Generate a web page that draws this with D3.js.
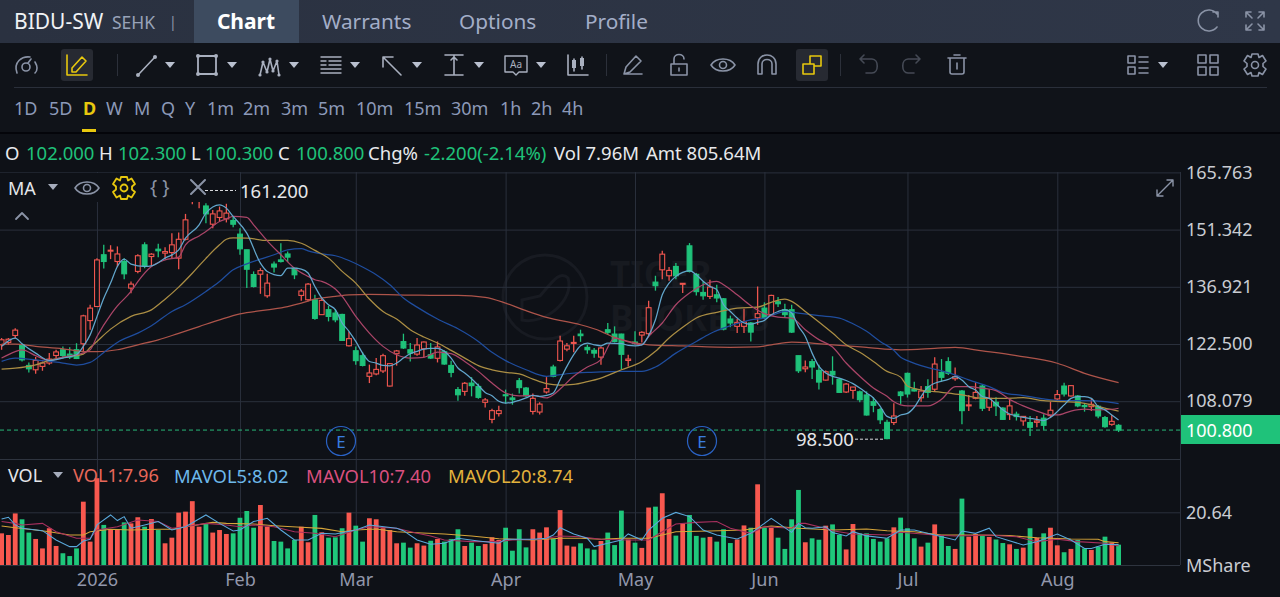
<!DOCTYPE html>
<html><head><meta charset="utf-8">
<style>html,body{margin:0;padding:0;background:#0e1117;overflow:hidden}svg{display:block}text{font-family:"Noto Sans",sans-serif}</style>
<script src="https://cdn.jsdelivr.net/npm/d3@7/dist/d3.min.js"></script>
</head><body><svg id="c" width="1280" height="597"></svg>
<script>
const opens=[122.3,122.9,124.65,122.3,117.1,116.0,116.85,117.7,119.6,121.05,
119.95,121.05,122.55,128.4,131.95,145.0,145.9,143.3,143.3,136.6,
140.8,147.5,144.55,146.4,145.4,145.55,144.15,148.9,158.6,158.8,
157.3,152.7,154.4,154.05,153.65,150.2,146.25,140.0,140.1,134.65,
142.65,143.7,145.2,141.6,134.75,133.65,133.65,129.9,131.15,130.3,
129.95,122.05,120.8,119.55,114.35,114.95,115.7,111.9,120.05,123.1,
121.05,119.95,121.3,119.8,118.9,120.55,117.1,111.0,110.55,112.65,
111.8,107.8,103.5,104.95,109.7,108.9,113.25,111.4,105.5,105.35,
110.4,116.7,118.35,121.2,122.75,125.0,121.65,120.9,119.2,126.1,
125.0,125.0,118.35,123.0,124.75,125.1,138.1,141.2,139.7,142.05,
137.6,147.25,140.05,135.5,134.5,134.9,133.9,128.8,126.95,126.95,
127.8,129.1,131.55,129.9,133.15,131.15,131.15,119.55,116.25,118.05,
115.85,113.4,115.6,113.6,110.4,110.8,110.45,109.65,107.95,105.95,
102.75,102.7,110.4,115.1,111.1,108.95,111.75,111.1,115.35,118.05,
113.75,110.65,106.9,108.8,111.9,106.55,107.8,106.35,104.7,104.8,
103.1,102.7,102.75,103.8,104.45,108.65,111.9,109.4,109.4,107.0,
106.7,106.8,103.95,102.25,102.0];
const closes=[123.56,123.7,126.0,118.5,116.25,118.35,117.7,118.7,120.5,119.6,
119.2,118.85,129.6,131.55,143.7,143.3,146.15,145.2,140.2,137.6,
144.75,142.05,145.15,146.0,145.8,147.5,148.9,153.8,160.0,159.5,
155.3,155.3,156.05,155.5,152.7,146.5,141.35,137.0,141.0,137.85,
141.9,143.3,144.4,139.95,135.85,137.6,128.95,133.5,129.45,128.6,
123.4,123.85,118.3,117.1,115.2,116.1,119.55,117.55,120.75,121.5,
120.2,122.25,123.0,118.95,121.75,117.45,115.35,109.7,112.6,112.0,
109.05,108.4,105.7,105.7,109.55,108.45,111.5,109.45,108.8,107.35,
111.25,114.35,123.25,122.05,122.9,124.6,121.05,120.2,121.5,125.45,
123.15,119.9,118.7,122.6,125.45,131.65,137.2,145.15,141.05,139.7,
137.8,140.8,135.7,134.65,136.85,134.1,126.25,127.8,127.95,128.05,
125.5,130.15,129.05,134.75,132.65,129.9,125.5,115.75,116.7,116.7,
112.9,115.5,114.7,110.3,112.4,111.65,108.45,104.6,107.05,103.4,
98.65,104.35,109.5,109.9,110.65,110.65,110.3,117.45,114.1,115.1,
114.25,105.7,107.15,110.3,106.3,108.8,106.9,103.5,106.9,104.2,
104.25,101.5,103.1,102.0,105.8,109.75,109.9,112.0,106.9,106.7,
107.3,104.35,101.65,103.0,100.8];
const highs=[124.0,124.0,126.5,122.55,117.85,119.2,118.1,120.2,121.05,121.9,
121.7,122.7,129.9,132.4,144.1,147.5,147.4,147.1,144.1,138.25,
145.15,148.15,145.4,147.75,146.9,150.45,150.6,155.3,161.2,160.0,
158.0,156.3,157.15,157.85,154.65,151.7,146.25,140.8,141.6,140.2,
143.3,147.9,145.8,141.6,136.35,137.85,134.9,134.1,132.15,131.3,
130.15,125.6,121.9,120.45,117.3,118.95,120.05,117.7,121.0,125.1,
122.75,124.0,123.15,122.75,123.15,120.9,118.3,111.65,112.9,114.15,
112.5,108.9,106.2,106.95,111.0,110.0,113.9,111.65,110.0,107.8,
114.15,117.3,124.6,122.75,124.6,126.1,122.3,121.5,121.9,127.8,
126.95,125.1,119.8,125.7,125.7,133.4,139.7,146.0,141.9,142.9,
137.85,147.95,140.4,138.3,138.7,137.45,134.1,129.65,128.8,131.4,
128.05,137.0,133.0,134.9,134.35,132.65,132.4,119.55,118.35,118.7,
117.3,115.85,119.4,113.9,112.65,111.65,110.8,110.55,109.05,106.35,
103.4,107.55,110.65,115.3,113.0,111.9,113.6,119.15,118.7,119.15,
116.55,110.9,109.65,112.85,112.35,111.1,109.05,106.55,108.4,105.45,
104.35,104.35,104.35,104.8,107.95,110.9,112.75,112.15,109.65,107.4,
108.65,107.15,104.35,104.6,102.3];
const lows=[121.04,122.3,124.0,118.1,115.3,115.0,115.75,117.25,118.95,119.2,
118.7,118.7,120.6,126.1,131.95,141.55,143.9,141.9,138.85,135.3,
140.35,141.6,142.05,144.4,143.9,144.15,141.35,148.6,157.75,156.75,
152.95,151.7,153.4,153.15,151.95,145.0,136.6,136.75,135.15,134.15,
140.55,143.05,143.2,138.85,133.4,133.25,128.6,129.9,128.2,128.0,
123.25,121.9,117.3,116.85,112.65,114.6,115.2,111.8,117.05,121.25,
118.1,119.55,119.15,118.7,117.85,117.3,114.1,108.2,109.45,109.3,
108.7,106.5,102.5,104.25,107.45,107.2,110.0,109.15,104.75,104.75,
110.0,114.1,118.1,120.65,120.45,123.05,120.05,119.05,117.3,124.85,
122.9,116.2,116.85,122.3,122.9,124.6,135.95,138.85,138.45,138.85,
135.35,140.55,134.75,133.65,133.85,133.0,125.95,126.75,125.25,125.25,
123.15,127.35,128.8,129.65,131.8,129.3,125.25,115.2,115.35,113.65,
111.0,113.3,112.25,110.15,110.15,108.7,107.8,104.45,105.3,102.35,
98.5,102.1,107.4,109.0,110.5,107.95,108.95,110.5,113.0,114.7,
113.25,102.25,105.6,108.55,105.6,105.6,104.35,103.35,103.35,103.2,
101.9,99.3,101.5,100.85,104.0,108.2,109.25,109.25,106.55,105.45,
105.6,103.75,101.4,101.9,100.3];
const volumes=[12.4,11.75,20.2,17.9,12.7,10.2,6.5,14.4,7.45,4.6,
3.5,6.5,24.8,9.15,34,15.7,14,14,16.7,16.3,
18.7,15,18,13.7,8.5,10.7,20.5,20.9,25,15,
16.3,12.7,13.7,12.15,12.4,18.5,21.15,14.6,23.5,15,
9.4,9.15,6.5,9.8,15,8.9,19.6,12.8,10.7,10.85,
14.4,20.5,15.4,9.15,18.3,17.9,14.4,13.7,8.5,8.75,
6.8,8.5,7.6,9.5,10.2,9.15,10.2,14,7.45,8.75,
7.45,8.2,10.85,9.8,14.6,5.6,14,6.9,14,12.7,
14.75,10.2,21.5,7.6,7.2,8.5,6.5,6,9.4,12.7,
7.8,21.3,10,8.75,6.7,22.5,22.85,28.1,18,11.5,
16.3,19.6,11.4,10.7,11,9.15,14,8.6,10,15.5,
14.6,31.6,14.6,14.6,10.7,6.3,17.9,29.4,8.9,10.45,
9.9,15.4,15.9,11.75,6.1,16.05,12.4,12.4,10.2,9.15,
10.45,14.75,18.55,14.4,10.45,7.2,8.75,15.9,11.4,7.45,
6.3,26,11.1,12.15,11.4,11,10,8.6,8.1,6.3,
6.8,14.4,10.7,12.4,14.6,7.7,5,6.3,9.8,6.5,
5.9,7.2,11.1,8.75,7.96];
const ma5=[[0,121.9],[2,124],[3,122.55],[5,120.2],[7,118.35],[9,118.95],[11,119.8],[12,121.9],[13,124.8],[14,129.4],[15,134.05],[16,137.85],[17,142.05],[18,143.9],[19,142.65],[21,142.05],[22,142.2],[24,144.15],[26,146.25],[27,149.2],[29,152.55],[30,155.5],[32,157.6],[33,156.75],[34,154.65],[36,150.45],[38,142.9],[39,140.8],[41,139.75],[42,141.6],[43,141.6],[44,141.4],
[45,140.4],[46,137],[47,134.1],[48,132.4],[49,131.15],[50,127.8],[51,125.7],[52,123.15],[53,120.2],[54,118.1],[55,117.7],[56,117.1],[57,117],[58,117.7],[59,118.95],[60,120.05],[61,120.65],[62,121.2],[63,121.4],[64,121.4],[65,120.65],[66,118.95],[67,116.45],[68,115.2],[69,113.75],[70,112.05],[71,110.3],[72,109.45],[73,108.05],[74,107.6],[75,107.8],[76,108.3],[77,108.9],[78,109.55],[79,109.3],[80,109.55],[81,110.15],[82,113.5],[83,116.85],[84,119.8],[85,122.05],[86,122.75],[87,122.3],[88,122.05],
[89,122.75],[91,122.6],[92,122.15],[93,122.05],[94,122.3],[95,124.6],[96,128.6],[97,134.9],[98,137.85],[99,139.55],[100,140.55],[101,141],[102,139.95],[103,138.3],[104,137],[105,136.2],[106,132.4],[107,130.7],[108,129.05],[109,127.8],[110,127.5],[111,127.95],[112,128.45],[113,129.9],[114,130.7],[115,131.15],[116,130.3],[117,126.95],[118,124.4],[119,120.2],[120,116.85],[121,115.2],[122,114.35],[123,113.9],[124,113.3],[125,112.5],[126,111.4],[127,110.15],[128,108.9],[129,106.8],[130,104.25],
[131,103.75],[132,104.6],[133,105],[134,106.55],[135,109.25],[136,111.6],[137,112.6],[139,113.6],[140,114.25],[141,113.4],[142,111.75],[143,110.9],[144,109.25],[145,108.8],[146,107.4],[147,105.9],[148,104.85],[149,104.35],[150,104],[151,103.75],[152,103.5],[153,103.2],[154,104],[155,105.45],[156,107.15],[157,108.8],[158,109.25],[159,109.25],[160,108.8],[161,106.7],[162,105.9],[163,104.6],[164,103.35]];
const ma10=[[0,118.95],[2,120.6],[3,121.05],[5,119.55],[7,118.35],[9,119.2],[11,119.8],[13,121.05],[14,124.4],[16,129.85],[17,132.1],[19,135.75],[20,138.25],[22,142.05],[24,143.7],[26,144.4],[27,147.5],[29,149.75],[30,150.85],[32,153.4],[33,154.05],[34,154.65],[36,154.45],[37,152.55],[39,148.5],[41,145],[43,141.6],
[45,139.55],[46,138.7],[47,138.3],[49,136.35],[50,134.5],[52,129.45],[54,125.25],[56,121.9],[58,119.8],[60,118.95],[62,119.15],[64,120.45],[66,120.05],[68,118.1],[70,115.6],[72,112.65],[74,110.15],[76,109.45],[78,109.55],[80,108.9],[81,109.7],[82,111.15],[84,114.35],[86,116.7],[88,118.55],
[90,124],[92,123],[94,122.3],[95,124.4],[97,127.8],[99,132.4],[101,135.35],[103,137.45],[105,138.3],[106,137.45],[108,134.9],[110,132.15],[112,130.15],[114,129.3],[116,129.05],[118,126.1],[120,123.6],[122,121.75],[124,117.7],[126,114.35],[128,111.4],[130,109.3],
[131,107.95],[133,106.9],[136,106.9],[138,108.55],[140,111.75],[142,111.75],[144,111.35],[146,110.75],[148,108.55],[150,106.9],[152,105.6],[154,104.6],[155,104.6],[157,105.6],[159,106.05],[161,105.9],[163,106.05],[164,106.3]];
const ma20=[[0,116.15],[2,116.4],[5,117.25],[7,118.35],[10,119.35],[12,119.95],[13,121.6],[14,123.15],[16,126.25],[19,129.45],[22,131.1],[24,133.8],[26,136.85],[28,140.35],[30,144.1],[32,147.5],[33,148.9],[34,149.25],[36,149.2],[39,148.6],[42,148.6],[44,147.9],
[46,146.1],[48,144.15],[50,140.8],[52,137.85],[54,133.85],[56,130.7],[58,128.8],[60,126.1],[62,124.25],[64,122.75],[66,120.9],[68,118.95],[70,117.05],[72,116],[74,115.35],[76,114.95],[78,113.65],[80,112.5],[82,112.15],[84,112.3],[86,113],[88,113.9],
[91,116],[94,118.1],[96,120.65],[98,124],[100,126.7],[102,129.05],[105,130.5],[108,131.55],[111,131.8],[113,133],[115,133.8],[116,133.25],[118,130.7],[120,128.05],[122,125.25],[124,122.3],[126,120.4],[128,118.1],[130,115.6],[132,114.15],
[133,111.9],[135,110.9],[138,110.3],[141,109.65],[144,108.8],[147,108.8],[150,108.95],[153,108.2],[156,107.95],[159,107.55],[161,106.7],[164,105.6]];
const ma30=[[0,118.1],[2,118.95],[5,118.5],[7,118.1],[9,117.7],[11,117.2],[13,117.85],[15,120.35],[17,122.9],[20,125.25],[22,127.1],[25,130.7],[27,132.4],[30,135.75],[32,138.25],[34,141.2],[36,142.7],[38,143.9],[40,145],[42,146.25],[44,146.55],
[45,146],[47,145.25],[49,144.75],[51,143.55],[53,141.9],[55,139.95],[57,137.45],[59,134.1],[61,131.8],[64,128.8],[67,126.35],[70,123.15],[72,120.4],[74,118.3],[77,116],[80,114.35],[83,115],[86,115.35],[88,115.45],
[91,115.6],[94,115.6],[96,116.7],[99,120.2],[102,123.15],[104,125.1],[107,127.1],[110,128.6],[112,129.05],[114,130.3],[115,130.7],[117,130.3],[120,129.65],[123,129.05],[125,127.6],[127,125.7],[129,123.15],[131,120.9],
[132,119.15],[133,118.3],[136,116.55],[138,115.7],[140,114.7],[142,113.45],[145,111.75],[147,110.25],[150,109.5],[153,108.65],[156,108.2],[159,108.2],[162,107.95],[164,107.45]];
const ma60=[[0,122.45],[2,122.45],[5,121.9],[9,121.3],[12,120.6],[14,120.55],[17,121.05],[20,122.3],[23,123.55],[26,125.2],[29,126.9],[32,128.6],[35,130.1],[39,131.1],[42,131.95],[44,132.8],
[46,133.85],[49,134.5],[51,134.9],[54,135],[60,134.85],[64,134.75],[67,134.75],[71,134.25],[74,132.8],[77,130.9],[80,129.2],[85,127.35],[88,125.7],
[90,124.15],[92,123.15],[95,122.3],[100,122],[107,121.65],[111,121.75],[113,122.3],[116,123],[119,122.75],[122,122.3],[127,121.65],[132,121.05],
[137,121.4],[140,121.65],[144,120.75],[149,119.55],[155,117.65],[159,115.1],[164,112.75]];
const mavol5=[[0,18],[1,18.7],[2,15.7],[3,14.4],[6,13.45],[8,9.8],[10,7.2],[11,7.2],[12,9.4],[13,10.05],[14,15.7],[16,19.6],[17,17.4],[18,18.95],[19,14.4],[21,15.7],[23,17],[25,13.7],[27,15],[30,19.6],[32,16.3],[34,13.3],[35,13.7],[37,17],[39,18.3],[41,13.7],[43,9.8],[45,9.8],[47,12.4],[49,12.15],[52,13.7],[54,15.7],[58,14.4],
[59,13.45],[61,9.8],[63,8.1],[65,8.5],[67,10.45],[70,9.4],[73,8.5],[74,10.05],[78,10.05],[80,10.45],[81,11.75],[82,14.6],[84,12.15],[86,10.45],[87,7.2],[89,8.5],[91,9.8],[92,12.15],[94,9.8],[95,13.7],[97,18.3],[99,20.6],[101,18.95],[103,13.7],[105,11.75],[108,10.2],[110,12.4],[112,16.3],[113,18.3],[116,12.8],[117,16.3],
[118,14.6],[119,14.4],[121,15],[122,12.7],[124,11.4],[125,13.05],[127,11.4],[130,10.45],[132,13.7],[134,13.7],[137,11.75],[140,9.8],[141,13.3],[143,12.4],[145,14.4],[146,11.1],[150,7.85],[152,9.15],[155,12.15],[157,9.8],[159,6.5],[160,6.5],[162,8.1],[164,8.02]];
const mavol10=[[0,17],[2,16.3],[3,15.7],[6,16.3],[8,13.05],[11,10.45],[13,10.45],[14,13.7],[17,15],[20,17.6],[23,17],[25,14.4],[27,15],[30,16.3],[33,15.7],[35,15],[37,15.7],[40,15],[43,13.05],[46,12.4],[49,11.1],[52,13.7],[54,15],[58,14.4],
[61,12.4],[63,11.35],[65,9.8],[69,9.15],[73,9.15],[75,9.8],[79,10.05],[82,11.35],[85,11.1],[88,10.05],[92,9.8],[95,9.8],[97,13.05],[99,16.05],[102,16.7],[105,17],[107,14.4],[110,12.4],[112,15],[116,14.4],[117,16.3],
[118,16.3],[120,15],[122,13.45],[125,12.15],[130,11.75],[132,12.8],[137,11.75],[140,11.35],[145,11.75],[149,11.1],[152,9.15],[155,10.05],[158,9.15],[162,8.5],[164,7.4]];
const mavol20=[[0,15.3],[2,14.6],[5,13.7],[7,13.05],[10,11.75],[12,11.75],[13,13.05],[16,14],[19,13.7],[23,14],[25,14],[28,15.4],[31,16.7],[33,16.3],[37,16.05],[40,15.4],[44,14.75],[47,14.35],[50,13.05],[52,13.7],[55,14.1],[58,13.05],
[61,12.65],[65,12.15],[69,11.35],[73,10.3],[78,9.8],[82,10.45],[85,10.45],[88,10.05],[91,10.45],[95,10.45],[97,11.75],[99,13.05],[104,13.3],[109,13.7],[113,15.3],[117,14.4],
[122,13.7],[127,14.1],[130,13.45],[134,13.05],[138,11.75],[143,11.75],[148,11.5],[152,10.7],[157,10.2],[161,10.05],[162,9.15],[164,8.74]];
const monthIdx=[14,35,52,74,93,112,133,155];
const monthLabels=["2026","Feb","Mar","Apr","May","Jun","Jul","Aug"];
const priceTicks=[165.763,151.342,136.921,122.5,108.079];
const volTicks=[20.64];
const intervals=["1D","5D","D","W","M","Q","Y","1m","2m","3m","5m","10m","15m","30m","1h","2h","4h"];
const intervalX=[14,49,83,106,134,161,185,207,243,281,318,356,404,451,500,531,562];
const tabs=["Warrants","Options","Profile"];
const tabX=[322,459,585];
const quote=[["O",5,"w"],["102.000",26,"g"],["H",99,"w"],["102.300",118,"g"],["L",191,"w"],["100.300",205,"g"],["C",278,"w"],["100.800",296,"g"],["Chg%",368,"w"],["-2.200(-2.14%)",424,"g"],["Vol 7.96M",554,"w"],["Amt 805.64M",646,"w"]];

const svg=d3.select("#c");
const UP="#f0564f",DOWN="#1fc27a",BG="#0e1117",GRID="#2a303c",AXT="#c9ccd2",MUT="#8c99b8",ICON="#8a93a6",YEL="#e8c80e";
const n=opens.length;
const x=d3.scaleLinear().domain([0,n-1]).range([1.6,1118.6]);
const y=d3.scaleLinear().domain([122.5,108.079]).range([344,401.2]);
const yv=d3.scaleLinear().domain([0,20.64]).range([565,512.3]);
const plotR=1180;

// panels
svg.append("rect").attr("width",1280).attr("height",597).attr("fill",BG);
const hdr=svg.append("linearGradient").attr("id","hg").attr("x1",0).attr("x2",1).attr("y1",0).attr("y2",0);
hdr.append("stop").attr("offset",0).attr("stop-color","#2a3140");hdr.append("stop").attr("offset",1).attr("stop-color","#2f3748");
svg.append("rect").attr("width",1280).attr("height",43).attr("fill","url(#hg)");
svg.append("rect").attr("y",43).attr("width",1280).attr("height",89).attr("fill","#101319");
svg.append("rect").attr("x",194).attr("width",105).attr("height",43).attr("fill","#3d4b5f");
svg.append("rect").attr("y",132).attr("width",1280).attr("height",2).attr("fill","#04050a");
svg.append("line").attr("x1",14).attr("x2",1267).attr("y1",87.5).attr("y2",87.5).attr("stroke","#2a2f3a");
const T=(s,px,py,size,fill,opt={})=>svg.append("text").attr("x",px).attr("y",py).attr("font-size",size).attr("fill",fill).attr("dominant-baseline","central").attr("font-weight",opt.w||400).attr("text-anchor",opt.a||"start").text(s);
T("BIDU-SW",14,21,21,"#f0f2f5");
T("SEHK",112,22,17.5,"#98a2b8");
T("|",169,21,14,"#8f98aa");
T("Chart",246,21,21,"#ffffff",{w:700,a:"middle"});
tabs.forEach((s,i)=>T(s,tabX[i],21,20.8,"#a3aec8"));
intervals.forEach((s,i)=>T(s,intervalX[i],108,18,s==="D"?YEL:MUT,{w:s==="D"?700:400}));
svg.append("rect").attr("x",82).attr("y",129).attr("width",14).attr("height",3).attr("fill",YEL);
quote.forEach(q=>T(q[0],q[1],152,18.5,q[2]==="g"?"#1fc27a":"#e8e9ec"));

// icons
function ic(cx,cy,d,col,sw){svg.append("path").attr("transform",`translate(${cx},${cy})`).attr("d",d).attr("fill","none").attr("stroke",col||ICON).attr("stroke-width",sw||1.6).attr("stroke-linecap","round").attr("stroke-linejoin","round");}
function tri(cx,cy,col){svg.append("path").attr("transform",`translate(${cx},${cy})`).attr("d","M-5,-3H5L0,3Z").attr("fill",col||"#b9c0cf");}
function dots(cx,cy,pts,r){pts.forEach(p=>svg.append("circle").attr("cx",cx+p[0]).attr("cy",cy+p[1]).attr("r",r||2).attr("fill","#a9b0bf"));}
const eye="M-12,0C-7,-8 7,-8 12,0C7,8 -7,8 -12,0Z M-3.5,0a3.5,3.5 0 1,0 7,0a3.5,3.5 0 1,0 -7,0";
const gear="M-3,-11H3L4,-7.5L7.5,-9.5L11,-4L8,-1.5V1.5L11,4L7.5,9.5L4,7.5L3,11H-3L-4,7.5L-7.5,9.5L-11,4L-8,1.5V-1.5L-11,-4L-7.5,-9.5L-4,-7.5Z M-3.5,0a3.5,3.5 0 1,0 7,0a3.5,3.5 0 1,0 -7,0";
ic(26,66,"M-9,7C-13,-4 -4,-10 4,-9 M9,-4C12,1 11,5 9,7 M-4,1a4,4 0 1,0 8,0a4,4 0 1,0 -8,0 M2,-3L5,-7");
svg.append("rect").attr("x",61).attr("y",49).attr("width",32).attr("height",32).attr("rx",3).attr("fill","#272a32");
ic(77,65,"M-10,-10V10H10 M-5,3L5,-8L9,-4L-1,7H-5Z",YEL);
svg.append("line").attr("x1",117.5).attr("x2",117.5).attr("y1",54).attr("y2",76).attr("stroke","#2c303a");
ic(146,66,"M-8,9L9,-9","#a9b0bf");dots(146,66,[[-8,9],[9,-9]]);
tri(170,65);
ic(207,65,"M-9,-9H9V9H-9Z","#a9b0bf",1.8);dots(207,65,[[-9,-9],[9,-9],[-9,9],[9,9]]);tri(232,65);
ic(269,66,"M-9,9L-6,-4L-2,6L1,-7L4,5L8,-5L10,9","#a9b0bf");dots(269,66,[[-9,9],[-6,-4],[-2,6],[1,-7],[4,5],[8,-5],[10,9]],1.6);tri(294,65);
ic(331,65,"M-10,-8H10 M-10,8H10 M-10,4H10 M-2,-4H10 M-2,0H10 M-10,-4H-5 M-10,0H-5","#a9b0bf",1.4);tri(355,65);
ic(392,66,"M-9,-9L9,9 M-9,-9V1 M-9,-9H1","#a9b0bf");tri(417,65);
ic(454,65,"M-9,-10H9 M-9,10H9 M0,-10V10 M-3,-5L0,-8L3,-5","#a9b0bf");tri(479,65);
ic(516,65,"M-11,-9H11V7H3L0,10L-3,7H-11Z","#a9b0bf",1.4);T("Aa",516,64,10,"#a9b0bf",{a:"middle"});tri(541,65);
ic(578,65,"M-10,-10V10H10 M-4,-6V6 M4,-8V4","#a9b0bf",1.6);svg.append("rect").attr("x",-6+578).attr("y",60).attr("width",4).attr("height",8).attr("fill","#a9b0bf");svg.append("rect").attr("x",2+578).attr("y",58).attr("width",4).attr("height",8).attr("fill","#a9b0bf");
svg.append("line").attr("x1",606.5).attr("x2",606.5).attr("y1",54).attr("y2",76).attr("stroke","#2c303a");
ic(633,65,"M-9,9L-7,2L3,-9L8,-4L-3,7Z M-9,9H9");
ic(679,65,"M-8,-1H8V10H-8Z M-5,-1V-6C-5,-12 5,-12 5,-6 M0,3V6");
ic(723,65,eye);
ic(767,65,"M-9,9V-1C-9,-13 9,-13 9,-1V9H5V-1C5,-7 -5,-7 -5,-1V9Z");
svg.append("rect").attr("x",796).attr("y",49).attr("width",32).attr("height",32).attr("rx",3).attr("fill","#272a32");
ic(812,65,"M-9,-1H2V9H-9Z M-2,-9H9V1H2 M-2,-9V-1",YEL);
svg.append("line").attr("x1",840.5).attr("x2",840.5).attr("y1",54).attr("y2",76).attr("stroke","#2c303a");
ic(868,65,"M-8,-6H4C11,-6 11,8 4,8H-2 M-8,-6L-4,-10 M-8,-6L-4,-2","#454a55");
ic(912,65,"M8,-6H-4C-11,-6 -11,8 -4,8H2 M8,-6L4,-10 M8,-6L4,-2","#454a55");
ic(957,65,"M-9,-7H9 M-3,-10H3 M-7,-7V7Q-7,9 -5,9H5Q7,9 7,7V-7 M0,-2V4");
ic(1138,65,"M-10,-9H-3V-2H-10Z M-10,2H-3V9H-10Z M1,-8H10 M1,-3H10 M1,3H10 M1,8H10");tri(1163,65);
ic(1208,65,"M-10,-10H-2V-2H-10Z M2,-10H10V-2H2Z M-10,2H-2V10H-10Z M2,2H10V10H2Z");
ic(1255,65,gear);
ic(1208,21,"M9,-7A10.5,10.5 0 1,0 9,6 M5,-9H10V-4");
ic(1255,21,"M-9,-4V-9H-4 M-8,-8L-3,-3 M4,-9H9V-4 M8,-8L3,-3 M-9,4V9H-4 M-8,8L-3,3 M4,9H9V4 M8,8L3,3");

// watermark
const wm=svg.append("g");
wm.append("circle").attr("cx",545).attr("cy",297).attr("r",42).attr("fill","none").attr("stroke","#181b22").attr("stroke-width",3);
wm.append("path").attr("d","M522,320C545,325 575,300 568,278C560,270 552,282 540,296L522,300Z").attr("fill","none").attr("stroke","#181b22").attr("stroke-width",3);
wm.append("text").attr("x",610).attr("y",273).attr("font-size",35).attr("font-weight",700).attr("fill","#171a20").attr("dominant-baseline","central").text("TIGER");
wm.append("text").attr("x",610).attr("y",317).attr("font-size",35).attr("font-weight",700).attr("fill","#171a20").attr("dominant-baseline","central").text("BROKERS");

// grid & axes
const gridP=svg.append("g").call(d3.axisRight(y).tickValues(priceTicks).tickSize(plotR).tickFormat(""));
gridP.select(".domain").remove();gridP.selectAll("line").attr("stroke",GRID);
const gridV=svg.append("g").call(d3.axisRight(yv).tickValues(volTicks).tickSize(plotR).tickFormat(""));
gridV.select(".domain").remove();gridV.selectAll("line").attr("stroke",GRID);
const gridX=svg.append("g").attr("transform","translate(0,565)").call(d3.axisTop(x).tickValues(monthIdx).tickSize(393).tickFormat(""));
gridX.select(".domain").remove();gridX.selectAll("line").attr("stroke",GRID);
[[0,plotR,459.5,459.5],[0,plotR,565.5,565.5],[plotR+.5,plotR+.5,172,565]].forEach(l=>svg.append("line").attr("x1",l[0]).attr("x2",l[1]).attr("y1",l[2]).attr("y2",l[3]).attr("stroke",l[2]===172?"#2a303c":"#2e343f"));
const axX=svg.append("g").attr("transform","translate(0,566)").call(d3.axisBottom(x).tickValues(monthIdx).tickSize(0).tickPadding(7).tickFormat((d,i)=>monthLabels[i]));
axX.select(".domain").remove();axX.selectAll("text").attr("font-size",18).attr("fill","#9297ab").attr("font-family",'"Noto Sans",sans-serif');
const axY=svg.append("g").attr("transform",`translate(${plotR},0)`).call(d3.axisRight(y).tickValues(priceTicks).tickSize(0).tickPadding(6).tickFormat(d3.format(".3f")));
axY.select(".domain").remove();axY.selectAll("text").attr("font-size",18).attr("fill",AXT).attr("font-family",'"Noto Sans",sans-serif');
const axV=svg.append("g").attr("transform",`translate(${plotR},0)`).call(d3.axisRight(yv).tickValues(volTicks).tickSize(0).tickPadding(6).tickFormat(d3.format(".2f")));
axV.select(".domain").remove();axV.selectAll("text").attr("font-size",18).attr("fill",AXT).attr("font-family",'"Noto Sans",sans-serif');
T("MShare",1186,565,18,AXT);

// last price line
const last=closes[n-1];
svg.append("line").attr("x1",0).attr("x2",plotR).attr("y1",y(last)).attr("y2",y(last)).attr("stroke","#27b877").attr("stroke-dasharray","4 3");

// candles
const idx=d3.range(n);
const isUp=i=>closes[i]>=opens[i];
const col=i=>isUp(i)?UP:DOWN;
const cw=4.8;
const cg=svg.append("g");
cg.selectAll("line").data(idx).join("line").attr("x1",i=>x(i)).attr("x2",i=>x(i)).attr("y1",i=>y(highs[i])).attr("y2",i=>y(lows[i])).attr("stroke",col).attr("stroke-width",1.3);
cg.selectAll("rect").data(idx).join("rect").attr("x",i=>x(i)-cw/2).attr("width",cw)
  .attr("y",i=>y(Math.max(opens[i],closes[i]))).attr("height",i=>Math.max(1,Math.abs(y(opens[i])-y(closes[i]))))
  .attr("fill",i=>isUp(i)?BG:DOWN).attr("stroke",col).attr("stroke-width",1.1);

// MA lines
const ln=d3.line().x(d=>x(d[0])).y(d=>y(d[1])).curve(d3.curveMonotoneX);
[[ma60,"#ad544a"],[ma30,"#1f4d9e"],[ma20,"#ab8e44"],[ma10,"#aa4568"],[ma5,"#62a6cc"]].forEach(s=>svg.append("path").attr("d",ln(s[0])).attr("fill","none").attr("stroke",s[1]).attr("stroke-width",1.25));

// volume
svg.append("g").selectAll("rect").data(idx).join("rect").attr("x",i=>x(i)-2.4).attr("width",4.8).attr("y",i=>yv(volumes[i])).attr("height",i=>565-yv(volumes[i])).attr("fill",i=>isUp(i)?"#f8584f":"#1fc77b");
const lv=d3.line().x(d=>x(d[0])).y(d=>yv(d[1]));
[[mavol20,"#d6a53a"],[mavol10,"#a8305f"],[mavol5,"#5aa9dc"]].forEach(s=>svg.append("path").attr("d",lv(s[0])).attr("fill","none").attr("stroke",s[1]).attr("stroke-width",1.05));

// last price tag
svg.append("rect").attr("x",1181).attr("y",415).attr("width",99).attr("height",29).attr("fill","#1fc27a");
T(d3.format(".3f")(last),1186,430,18,"#ffffff");

// legend overlay hides chart behind
svg.append("rect").attr("x",0).attr("y",173).attr("width",240).attr("height",29).attr("fill",BG);
T("MA",8,188,18,"#e4e6ea");
tri(53,187,"#a6adbd");
ic(87,188,eye,"#8a93a6",1.6);
ic(124,188,gear,YEL,1.8);
T("{ }",150,187,19,"#8a93a6");
ic(198,187,"M-7,-7L7,7 M7,-7L-7,7","#8a93a6",2);
ic(22,216,"M-6,3L0,-3L6,3","#8a93a6",1.8);
ic(1165,188,"M-8,8L8,-8 M2,-8H8V-2 M-8,2V8H-2","#8a93a6",1.4);

// hi/lo annotations
const hi=d3.max(highs),lo=d3.min(lows),loI=lows.indexOf(lo);
svg.append("line").attr("x1",205).attr("x2",236).attr("y1",y(hi)).attr("y2",y(hi)).attr("stroke","#d8dade").attr("stroke-dasharray","3 2");
T(d3.format(".3f")(hi),240,190,18.5,"#e6e7ea");
svg.append("line").attr("x1",855).attr("x2",x(loI)-3).attr("y1",y(lo)).attr("y2",y(lo)).attr("stroke","#d8dade").attr("stroke-dasharray","3 2");
T(d3.format(".3f")(lo),796,438,18.5,"#e6e7ea");

// E markers
[341,702].forEach(px=>{svg.append("circle").attr("cx",px).attr("cy",441).attr("r",14.5).attr("fill","none").attr("stroke","#2a62c4").attr("stroke-width",1.2);
 T("E",px,441,17,"#3a7de0",{a:"middle"});});

// volume legend
T("VOL",8,475,18,"#e4e6ea");tri(58,475,"#a6adbd");
T("VOL1:7.96",73,475,18.2,"#e8685a");
T("MAVOL5:8.02",174,475,18.4,"#6db8ea");
T("MAVOL10:7.40",306,475,18.4,"#d9507f");
T("MAVOL20:8.74",448,475,18.4,"#e3b23c");
</script></body></html>
